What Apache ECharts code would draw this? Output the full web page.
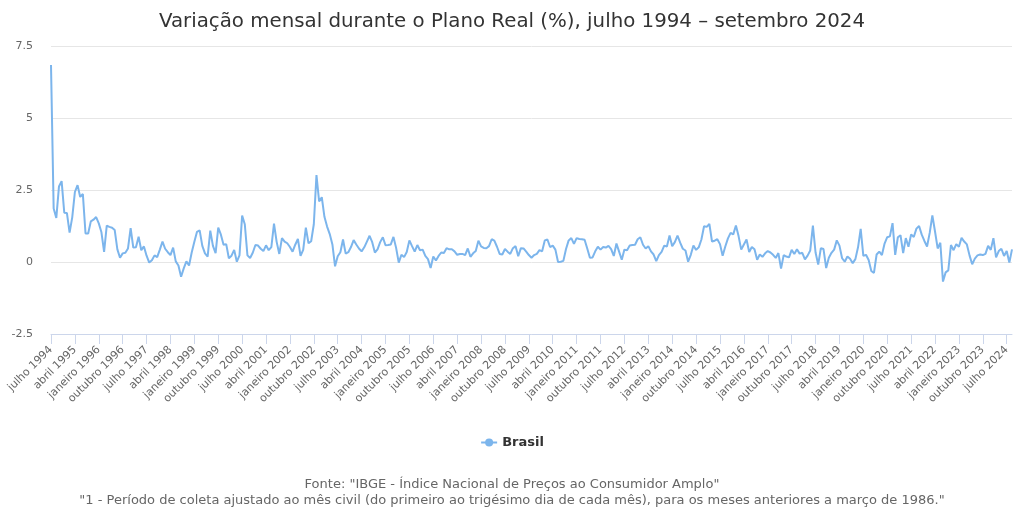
<!DOCTYPE html>
<html>
<head>
<meta charset="utf-8">
<script src="https://cdn.jsdelivr.net/npm/echarts@6/dist/echarts.min.js"></script>
<style>
html,body{margin:0;padding:0;background:#fff;}
#chart{width:1024px;height:529px;}
</style>
</head>
<body>
<div id="chart"></div>
<script>
const monthNames = ["janeiro","fevereiro","março","abril","maio","junho","julho","agosto","setembro","outubro","novembro","dezembro"];
const startYear = 1994, startMonth = 6; // julho 1994
const seriesName = "Brasil";
const yTicks = [-2.5, 0, 2.5, 5, 7.5];
const ipca = [
  6.84, 1.86, 1.53, 2.62, 2.81, 1.71,
  1.70, 1.02, 1.55, 2.43, 2.67, 2.26, 2.36, 0.99, 0.99, 1.41, 1.47, 1.56,
  1.34, 1.03, 0.35, 1.26, 1.22, 1.19, 1.11, 0.44, 0.15, 0.30, 0.32, 0.47,
  1.18, 0.50, 0.51, 0.88, 0.41, 0.54, 0.22, -0.02, 0.06, 0.23, 0.17, 0.43,
  0.71, 0.46, 0.34, 0.24, 0.50, 0.02, -0.12, -0.51, -0.22, 0.02, -0.12, 0.33,
  0.70, 1.05, 1.10, 0.56, 0.30, 0.19, 1.09, 0.56, 0.31, 1.19, 0.95, 0.60,
  0.62, 0.13, 0.22, 0.42, 0.01, 0.23, 1.61, 1.31, 0.23, 0.14, 0.32, 0.59,
  0.57, 0.46, 0.38, 0.58, 0.41, 0.52, 1.33, 0.70, 0.28, 0.83, 0.71, 0.65,
  0.52, 0.36, 0.60, 0.80, 0.21, 0.42, 1.19, 0.65, 0.72, 1.31, 3.02, 2.10,
  2.25, 1.57, 1.23, 0.97, 0.61, -0.15, 0.20, 0.34, 0.78, 0.29, 0.34, 0.52,
  0.76, 0.61, 0.47, 0.37, 0.51, 0.71, 0.91, 0.69, 0.33, 0.44, 0.69, 0.86,
  0.58, 0.59, 0.61, 0.87, 0.49, -0.02, 0.25, 0.17, 0.35, 0.75, 0.55, 0.36,
  0.59, 0.41, 0.43, 0.21, 0.10, -0.21, 0.19, 0.05, 0.21, 0.33, 0.31, 0.48,
  0.44, 0.44, 0.37, 0.25, 0.28, 0.28, 0.24, 0.47, 0.18, 0.30, 0.38, 0.74,
  0.54, 0.49, 0.48, 0.55, 0.79, 0.74, 0.53, 0.28, 0.26, 0.45, 0.36, 0.28,
  0.48, 0.55, 0.20, 0.48, 0.47, 0.36, 0.24, 0.15, 0.24, 0.28, 0.41, 0.37,
  0.75, 0.78, 0.52, 0.57, 0.43, 0.00, 0.01, 0.04, 0.45, 0.75, 0.83, 0.63,
  0.83, 0.80, 0.79, 0.77, 0.47, 0.15, 0.16, 0.37, 0.53, 0.43, 0.52, 0.50,
  0.56, 0.45, 0.21, 0.64, 0.36, 0.08, 0.43, 0.41, 0.57, 0.59, 0.60, 0.79,
  0.86, 0.60, 0.47, 0.55, 0.37, 0.26, 0.03, 0.24, 0.35, 0.57, 0.54, 0.92,
  0.55, 0.69, 0.92, 0.67, 0.46, 0.40, 0.01, 0.25, 0.57, 0.42, 0.51, 0.78,
  1.24, 1.22, 1.32, 0.71, 0.74, 0.79, 0.62, 0.22, 0.54, 0.82, 1.01, 0.96,
  1.27, 0.90, 0.43, 0.61, 0.78, 0.35, 0.52, 0.44, 0.08, 0.26, 0.18, 0.30,
  0.38, 0.33, 0.25, 0.14, 0.31, -0.23, 0.24, 0.19, 0.16, 0.42, 0.28, 0.44,
  0.29, 0.32, 0.09, 0.22, 0.40, 1.26, 0.33, -0.09, 0.48, 0.45, -0.21, 0.15,
  0.32, 0.43, 0.75, 0.57, 0.13, 0.01, 0.19, 0.11, -0.04, 0.10, 0.51, 1.15,
  0.21, 0.25, 0.07, -0.31, -0.38, 0.26, 0.36, 0.24, 0.64, 0.86, 0.89, 1.35,
  0.25, 0.86, 0.93, 0.31, 0.83, 0.53, 0.96, 0.87, 1.16, 1.25, 0.95, 0.73,
  0.54, 1.01, 1.62, 1.06, 0.47, 0.67, -0.68, -0.36, -0.29, 0.59, 0.41, 0.62,
  0.53, 0.84, 0.71, 0.61, 0.23, -0.08, 0.12, 0.23, 0.26, 0.24, 0.28, 0.56,
  0.42, 0.83, 0.16, 0.38, 0.46, 0.21, 0.38, -0.02, 0.44
];
const categories = ipca.map((_, i) => {
  const m = (startMonth + i) % 12;
  const y = startYear + Math.floor((startMonth + i) / 12);
  return monthNames[m] + " " + y;
});
const titleText = "Variação mensal durante o Plano Real (%), julho 1994 – setembro 2024";
const sourceLines = [
  'Fonte: "IBGE - Índice Nacional de Preços ao Consumidor Amplo"',
  '"1 - Período de coleta ajustado ao mês civil (do primeiro ao trigésimo dia de cada mês), para os meses anteriores a março de 1986."'
];

const FONT = "DejaVu Sans";
const footStyle = {fontFamily: FONT, fontSize: 13, fontWeight: 'normal', color: '#666666'};
const chart = echarts.init(document.getElementById('chart'), null, {renderer: 'canvas'});
chart.setOption({
  backgroundColor: '#ffffff',
  animation: false,
  textStyle: {fontFamily: FONT},
  title: [
    {text: titleText, left: 'center', top: 7,
     textStyle: {fontFamily: FONT, fontSize: 19.8, fontWeight: 'normal', color: '#333333'}},
    {text: sourceLines[0], left: 'center', top: 473, textStyle: footStyle},
    {text: sourceLines[1], left: 'center', top: 489, textStyle: footStyle}
  ],
  legend: {
    data: [seriesName], top: 431, left: 'center',
    itemWidth: 16, itemHeight: 10,
    textStyle: {fontFamily: FONT, fontSize: 13, fontWeight: 'bold', color: '#333333'}
  },
  grid: {left: 51, right: 12, top: 46, bottom: 195, containLabel: false},
  xAxis: {
    type: 'category', data: categories, boundaryGap: false,
    axisLine: {onZero: false, lineStyle: {color: '#ccd6eb'}},
    axisTick: {interval: 8, length: 10, lineStyle: {color: '#ccd6eb'}},
    axisLabel: {interval: 8, rotate: 45, fontSize: 11, color: '#666666', fontFamily: FONT, margin: 14}
  },
  yAxis: {
    type: 'value', min: yTicks[0], max: yTicks[yTicks.length-1], interval: 2.5,
    axisLine: {show: false}, axisTick: {show: false},
    axisLabel: {fontSize: 11, color: '#666666', fontFamily: FONT, margin: 18},
    splitLine: {lineStyle: {color: '#e6e6e6'}}
  },
  series: [{
    name: seriesName, type: 'line', data: ipca,
    symbol: 'circle', symbolSize: 8, showSymbol: false,
    lineStyle: {color: '#7cb5ec', width: 2},
    itemStyle: {color: '#7cb5ec'}
  }]
});
</script>
</body>
</html>
